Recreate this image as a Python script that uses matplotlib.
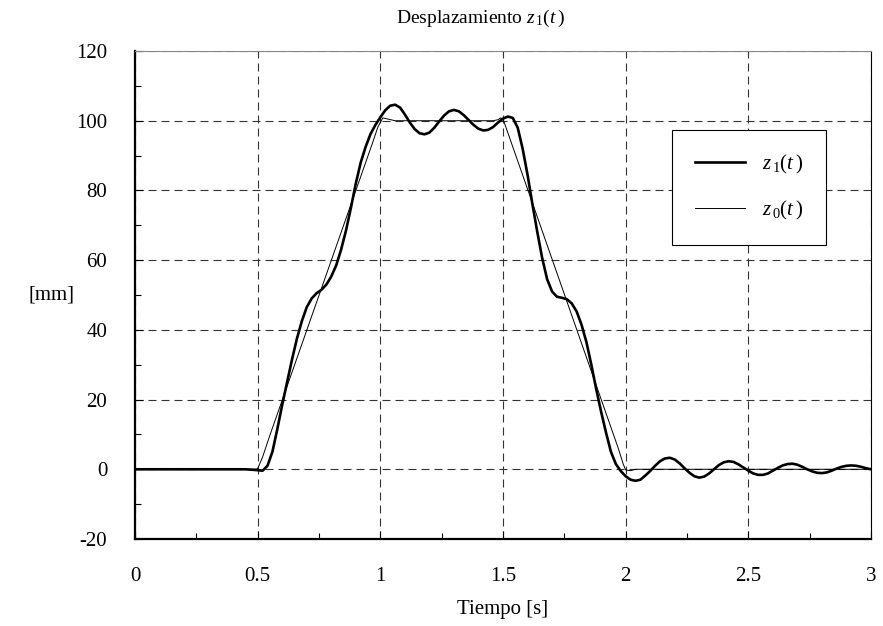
import numpy as np
import matplotlib.pyplot as plt
from matplotlib.ticker import MultipleLocator

plt.rcParams['font.family'] = ['Liberation Serif', 'DejaVu Serif']
plt.rcParams['mathtext.fontset'] = 'custom'
plt.rcParams['mathtext.rm'] = 'Liberation Serif'
plt.rcParams['mathtext.it'] = 'Liberation Serif:italic'
plt.rcParams['axes.unicode_minus'] = False

# z1(t)
t1 = [0.0, 0.45, 0.49, 0.52, 0.54, 0.56, 0.58, 0.60, 0.62, 0.64, 0.66, 0.68, 0.70,
      0.72, 0.74, 0.76, 0.78, 0.80, 0.82, 0.84, 0.86, 0.88, 0.90, 0.92, 0.94, 0.96,
      0.98, 1.00, 1.02, 1.04, 1.06, 1.08, 1.10, 1.12, 1.14, 1.16, 1.18, 1.20, 1.22,
      1.24, 1.26, 1.28, 1.30, 1.32, 1.34, 1.36, 1.38, 1.40, 1.42, 1.44, 1.46, 1.48,
      1.50, 1.52, 1.54, 1.56, 1.58, 1.60, 1.62, 1.64, 1.66, 1.68, 1.70, 1.72, 1.74,
      1.76, 1.78, 1.80, 1.82, 1.84, 1.86, 1.88, 1.90, 1.92, 1.94, 1.96, 1.98, 2.00,
      2.02, 2.04, 2.06, 2.08, 2.10, 2.12, 2.14, 2.16, 2.18, 2.20, 2.22, 2.24, 2.26,
      2.28, 2.30, 2.32, 2.34, 2.36, 2.38, 2.40, 2.42, 2.44, 2.46, 2.48, 2.50, 2.52,
      2.54, 2.56, 2.58, 2.60, 2.62, 2.64, 2.66, 2.68, 2.70, 2.72, 2.74, 2.76, 2.78,
      2.80, 2.82, 2.84, 2.86, 2.88, 2.90, 2.92, 2.94, 2.96, 2.98, 3.00]
z1 = [0, 0, -0.2, -0.4, 1.0, 5.0, 11.5, 18.5, 25.0, 31.5, 37.5, 42.5, 46.5,
      49.0, 50.5, 51.5, 53.0, 55.3, 58.5, 63.0, 68.5, 75.0, 82.0, 88.0, 92.5, 96.2,
      98.8, 101.0, 103.0, 104.3, 104.6, 103.8, 101.8, 99.5, 97.6, 96.4, 96.1, 96.6, 98.0,
      99.8, 101.5, 102.7, 103.1, 102.7, 101.6, 100.2, 98.8, 97.7, 97.2, 97.4, 98.2, 99.5,
      100.6, 101.2, 100.8, 98.0, 92.0, 84.5, 76.0, 68.0, 60.5, 54.5, 51.0, 49.5, 49.2,
      48.8, 47.6, 45.3, 41.5, 36.5, 30.0, 23.0, 16.5, 10.5, 5.0, 1.5, -0.5, -2.0,
      -3.0, -3.3, -3.0, -1.8, -0.5, 1.0, 2.3, 3.1, 3.3, 2.8, 1.7, 0.3, -1.0,
      -2.0, -2.4, -2.1, -1.2, 0.0, 1.2, 2.0, 2.3, 2.1, 1.4, 0.5, -0.4, -1.2,
      -1.6, -1.6, -1.2, -0.4, 0.4, 1.1, 1.5, 1.6, 1.3, 0.7, 0.0, -0.6, -1.0,
      -1.1, -0.9, -0.4, 0.2, 0.7, 1.0, 1.1, 1.0, 0.7, 0.3, 0.0]

# z0(t) - trapezoid input
t0 = [0.0, 0.49, 0.50, 0.52, 0.55, 0.97, 0.99, 1.01, 1.03, 1.06, 1.46, 1.48, 1.49,
      1.50, 1.52, 1.97, 1.99, 2.00, 2.02, 2.04, 3.00]
z0 = [0, 0, 0.2, 3.5, 9.8, 94.0, 98.2, 100.8, 100.5, 100.0, 100.0, 100.3, 100.8,
      100.5, 96.5, 6.0, 1.5, -0.2, -0.4, 0.0, 0.0]

fig = plt.figure(figsize=(8.83, 6.26), dpi=100)
ax = fig.add_axes([0.1529, 0.139, 0.8335, 0.7795])

ax.plot(t1, z1, color='black', lw=1.9, label='$z_{\\,1}(t\\,)$', zorder=3)
ax.plot(t0, z0, color='black', lw=0.7, label='$z_{\\,0}(t\\,)$', zorder=3)

ax.set_xlim(0, 3)
ax.set_ylim(-20, 120)
ax.xaxis.set_major_locator(MultipleLocator(0.5))
ax.xaxis.set_minor_locator(MultipleLocator(0.25))
ax.yaxis.set_major_locator(MultipleLocator(20))
ax.yaxis.set_minor_locator(MultipleLocator(10))
ax.xaxis.set_major_formatter(plt.FuncFormatter(lambda v, p: f'{v:g}'))
ax.tick_params(which='both', direction='in', labelsize=15, colors='black')
ax.tick_params(which='major', length=6, width=0.8)
ax.tick_params(axis='x', which='major', pad=20)
ax.tick_params(axis='y', which='major', pad=20)
ax.tick_params(which='minor', length=4, width=0.8)

ax.grid(True, which='major', color='#333333', lw=0.8, linestyle=(0, (7.2, 4.5)))

ax.spines['left'].set_linewidth(1.6)
ax.spines['bottom'].set_linewidth(1.6)
ax.spines['top'].set_linewidth(0.8)
ax.spines['top'].set_color('#888888')
ax.spines['right'].set_linewidth(0.8)

ax.set_title('Desplazamiento $z_{\\,1}(t\\,)$', fontsize=14, pad=20, x=0.469)
ax.set_xlabel('Tiempo [s]', fontsize=15, labelpad=10)
ax.set_ylabel('[mm]', fontsize=15, rotation=0, va='center', ha='center')
ax.yaxis.set_label_coords(-0.113, 0.5)

leg = ax.legend(loc='upper left', bbox_to_anchor=(0.7296, 0.838), fontsize=15,
                frameon=True, fancybox=False, edgecolor='black', framealpha=1,
                handlelength=2.4, borderpad=1.1, labelspacing=1.1, handletextpad=0.8,
                borderaxespad=0)
leg.get_frame().set_linewidth(0.8)

plt.savefig('out.png', dpi=100)
